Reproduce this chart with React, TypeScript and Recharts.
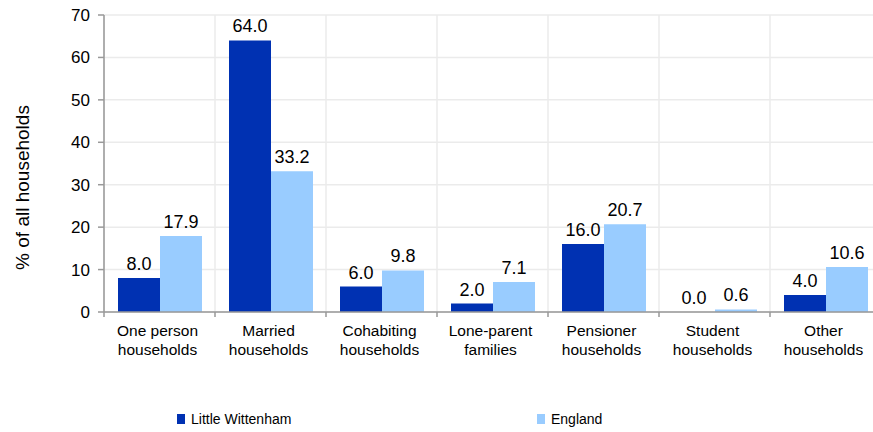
import React from "react";
import {
  BarChart,
  Bar,
  XAxis,
  YAxis,
  CartesianGrid,
  Legend,
  LabelList,
} from "recharts";

const categories = [
  "One person households",
  "Married households",
  "Cohabiting households",
  "Lone-parent families",
  "Pensioner households",
  "Student households",
  "Other households",
];
const littleWittenham = [8.0, 64.0, 6.0, 2.0, 16.0, 0.0, 4.0];
const england = [17.9, 33.2, 9.8, 7.1, 20.7, 0.6, 10.6];
const yTicks = [0, 10, 20, 30, 40, 50, 60, 70];
const seriesNames = ["Little Wittenham", "England"];

const DARK = "#0031B2";
const LIGHT = "#99CCFF";
const AXIS = "#999999";
const GRID = "#ebebeb";
const FONT = "'Liberation Sans', Arial, sans-serif";

const CHART_W = 873;
const CHART_H = 432;
// the plot area runs past the right edge of the picture, as in the reference
const MARGIN = { top: 15, right: -8, bottom: 0, left: 8 };
const Y_W = 96;
const PLOT_W = CHART_W - MARGIN.left - MARGIN.right - Y_W;
const BAND = PLOT_W / categories.length;

const data = categories.map((c, i) => ({
  name: c,
  lw: littleWittenham[i],
  eng: england[i],
}));

const CatTick = (props: any) => {
  const { x, y, payload } = props;
  const v: string = payload.value;
  const idx = v.lastIndexOf(" ");
  const l1 = v.slice(0, idx);
  const l2 = v.slice(idx + 1);
  const axisY = y - 5;
  return (
    <g>
      <line
        x1={x - BAND / 2}
        x2={x - BAND / 2}
        y1={axisY}
        y2={axisY + 5}
        stroke={AXIS}
        strokeWidth={1.5}
      />
      <text
        x={x - 2}
        y={axisY}
        textAnchor="middle"
        fill="#000"
        fontSize={15.5}
        fontFamily={FONT}
      >
        <tspan x={x - 2} dy={24}>
          {l1}
        </tspan>
        <tspan x={x - 2} dy={19}>
          {l2}
        </tspan>
      </text>
    </g>
  );
};

const LegendContent = () => {
  const items = [
    { name: seriesNames[0], color: DARK, left: 169 },
    { name: seriesNames[1], color: LIGHT, left: 529 },
  ];
  return (
    <div style={{ position: "relative", height: 60, width: 860 }}>
      {items.map((it) => (
        <div
          key={it.name}
          style={{
            position: "absolute",
            left: it.left,
            top: 39,
            display: "flex",
            alignItems: "center",
            fontFamily: FONT,
            fontSize: 14,
            color: "#000",
            whiteSpace: "nowrap",
          }}
        >
          <span
            style={{
              display: "inline-block",
              width: 8,
              height: 10,
              background: it.color,
              marginRight: 6,
            }}
          />
          <span>{it.name}</span>
        </div>
      ))}
    </div>
  );
};

const fmt = (v: any) => Number(v).toFixed(1);

const ValueLabel = (p: any) => {
  const { x, y, width, height, value } = p;
  const top = Math.min(Number(y), Number(y) + Number(height || 0));
  return (
    <text
      x={Number(x) + Number(width) / 2}
      y={top - 8}
      textAnchor="middle"
      fill="#000"
      fontSize={18}
      fontFamily={FONT}
    >
      {fmt(value)}
    </text>
  );
};

export default function App() {
  return (
    <>
      <style>{"html,body{margin:0;padding:0;overflow:hidden}"}</style>
      <BarChart
        width={CHART_W}
        height={CHART_H}
        data={data}
        margin={MARGIN}
        barCategoryGap={14}
        barGap={0}
      >
        <CartesianGrid
          stroke={GRID}
          strokeWidth={1.5}
          verticalCoordinatesGenerator={({ offset }: any) =>
            Array.from(
              { length: categories.length },
              (_, i) => offset.left + (i * offset.width) / categories.length
            )
          }
        />
        <XAxis
          dataKey="name"
          height={60}
          stroke={AXIS}
          strokeWidth={1.5}
          tickLine={false}
          tickSize={5}
          tickMargin={0}
          interval={0}
          tick={<CatTick />}
        />
        <YAxis
          width={Y_W}
          domain={[0, 70]}
          ticks={yTicks}
          interval={0}
          stroke={AXIS}
          strokeWidth={1.5}
          tickSize={6}
          tickMargin={8}
          tick={{ fill: "#000", fontSize: 17, fontFamily: FONT }}
          label={{
            value: "% of all households",
            angle: -90,
            position: "center",
            dx: -34,
            dy: 24,
            fill: "#000",
            fontSize: 19,
            fontFamily: FONT,
          }}
        />
        <Legend verticalAlign="bottom" height={60} content={<LegendContent />} />
        <Bar
          dataKey="lw"
          name={seriesNames[0]}
          fill={DARK}
          minPointSize={0.01}
          isAnimationActive={false}
        >
          <LabelList dataKey="lw" content={<ValueLabel />} />
        </Bar>
        <Bar
          dataKey="eng"
          name={seriesNames[1]}
          fill={LIGHT}
          minPointSize={0.01}
          isAnimationActive={false}
        >
          <LabelList dataKey="eng" content={<ValueLabel />} />
        </Bar>
      </BarChart>
    </>
  );
}
